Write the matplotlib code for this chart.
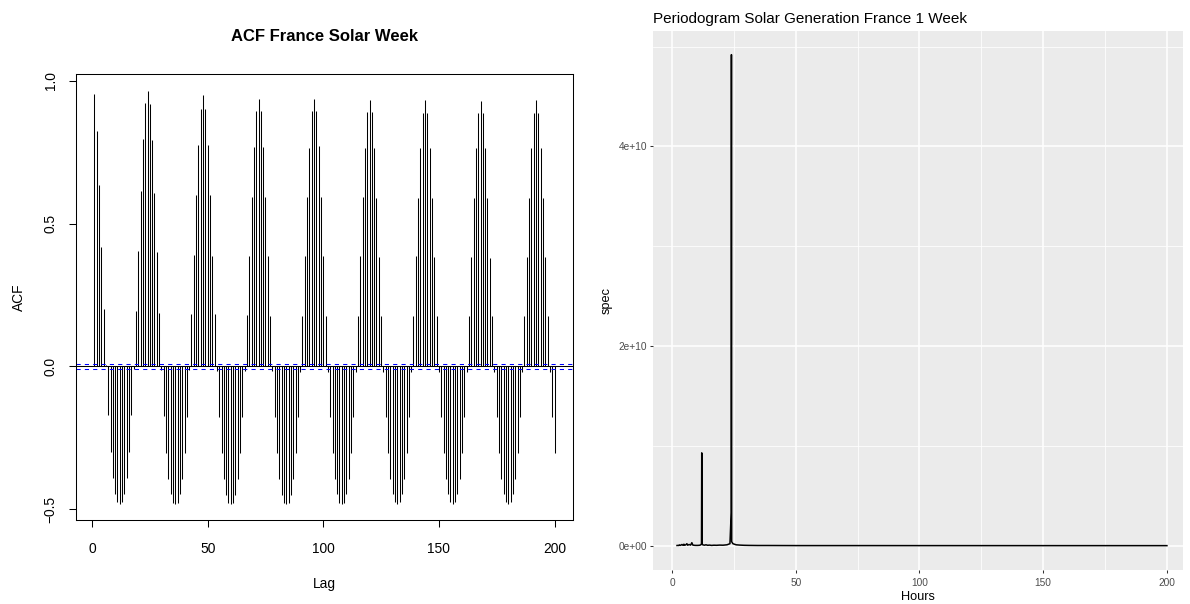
import matplotlib
matplotlib.use("Agg")
import matplotlib.pyplot as plt
import numpy as np

plt.rcParams['font.family'] = ['Liberation Sans', 'DejaVu Sans']

# ---------------- ACF data (lags 1..200) ----------------
acf_lags = list(range(1, 201))
acf_values = [
    # 1-24
    0.953, 0.823, 0.634, 0.418, 0.200, 0.004,
    -0.170, -0.300, -0.391, -0.446, -0.476, -0.482, -0.476, -0.446, -0.391, -0.300, -0.172,
    -0.010,
    0.194, 0.404, 0.613, 0.795, 0.923, 0.966,
    # 25-48
    0.919, 0.792, 0.608, 0.399, 0.186, -0.012,
    -0.175, -0.304, -0.394, -0.448, -0.477, -0.483, -0.477, -0.448, -0.394, -0.303, -0.176,
    -0.013,
    0.185, 0.391, 0.599, 0.777, 0.900, 0.949,
    # 49-72
    0.900, 0.777, 0.599, 0.387, 0.183, -0.015,
    -0.177, -0.305, -0.395, -0.449, -0.478, -0.483, -0.478, -0.449, -0.395, -0.305, -0.178,
    -0.016,
    0.179, 0.387, 0.593, 0.768, 0.894, 0.937,
    # 73-96
    0.894, 0.768, 0.593, 0.385, 0.178, -0.017,
    -0.178, -0.305, -0.395, -0.449, -0.478, -0.483, -0.478, -0.449, -0.395, -0.305, -0.178,
    -0.018,
    0.178, 0.385, 0.593, 0.766, 0.894, 0.937,
    # 97-120
    0.894, 0.771, 0.593, 0.385, 0.177, -0.019,
    -0.178, -0.305, -0.394, -0.448, -0.477, -0.482, -0.477, -0.448, -0.394, -0.305, -0.178,
    -0.019,
    0.177, 0.385, 0.593, 0.766, 0.891, 0.934,
    # 121-144
    0.891, 0.766, 0.591, 0.383, 0.176, -0.020,
    -0.178, -0.305, -0.394, -0.448, -0.476, -0.482, -0.476, -0.448, -0.394, -0.305, -0.178,
    -0.020,
    0.176, 0.385, 0.591, 0.766, 0.888, 0.932,
    # 145-168
    0.888, 0.766, 0.591, 0.383, 0.176, -0.020,
    -0.178, -0.304, -0.394, -0.447, -0.475, -0.482, -0.475, -0.447, -0.394, -0.304, -0.178,
    -0.020,
    0.175, 0.383, 0.588, 0.764, 0.888, 0.931,
    # 169-192
    0.888, 0.764, 0.588, 0.380, 0.175, -0.021,
    -0.178, -0.304, -0.394, -0.447, -0.475, -0.482, -0.475, -0.447, -0.394, -0.304, -0.178,
    -0.021,
    0.175, 0.383, 0.588, 0.764, 0.888, 0.932,
    # 193-200
    0.888, 0.764, 0.588, 0.383, 0.175, -0.021, -0.178, -0.304,
]
acf_ci = 0.0093
acf_xticks = [0, 50, 100, 150, 200]
acf_yticks = [-0.5, 0.0, 0.5, 1.0]
acf_yticklabels = ["\u22120.5", "0.0", "0.5", "1.0"]

# ---------------- Periodogram data ----------------
pg_hours = [2.0, 2.4, 2.8, 3.0, 3.4, 4.0, 4.4, 4.8, 5.0, 5.3, 5.6, 6.0, 6.3, 6.9,
            7.5, 8.0, 8.4, 9.0, 9.6, 10.3, 11.0, 11.6, 11.9, 12.0, 12.1, 12.5,
            13.1, 13.7, 14.4, 15.1, 16.0, 16.9, 18.0, 19.2, 20.6, 22.2, 23.4,
            23.9, 24.0, 24.1, 24.6, 25.9, 27.4, 29.1, 31.0, 34.5, 38.7, 44.2,
            51.6, 61.9, 77.4, 103.2, 154.8, 200.0]
pg_spec = [2e7, 3e7, 2e7, 8e7, 3e7, 1.2e8, 4e7, 1.5e8, 5e7, 6e7, 1.0e8, 2.0e8, 5e7, 1.2e8,
           6e7, 3.0e8, 6e7, 4e7, 3e7, 3e7, 4e7, 8e7, 2e8, 9.3e9, 1.5e8, 8e7,
           5e7, 9e7, 4e7, 6e7, 3e7, 5e7, 4e7, 6e7, 5e7, 9e7, 2e8,
           3.3e9, 4.92e10, 4e8, 2e8, 9e7, 6e7, 4e7, 3e7, 2e7, 2e7, 1.5e7,
           1e7, 1e7, 1e7, 8e6, 6e6, 5e6]
pg_xticks = [0, 50, 100, 150, 200]
pg_xminor = [25, 75, 125, 175]
pg_yticks = [0, 2e10, 4e10]
pg_yticklabels = ["0e+00", "2e+10", "4e+10"]
pg_yminor = [1e10, 3e10, 5e10]

W, H = 1190, 604
fig = plt.figure(figsize=(W / 100, H / 100), dpi=100)

# ---------------- Left: base-R style ACF ----------------
axL = fig.add_axes([76 / W, (H - 520) / H, 497 / W, 446 / H])
axL.vlines(acf_lags, 0, acf_values, color='black', lw=0.75)
axL.axhline(0, color='black', lw=0.75)
axL.axhline(acf_ci, color='blue', lw=0.75, linestyle=(0, (4, 4)))
axL.axhline(-acf_ci, color='blue', lw=0.75, linestyle=(0, (4, 4)))
axL.set_xlim(-6.92, 208.0)
axL.set_ylim(-0.538, 1.024)
axL.set_xticks(acf_xticks)
axL.set_xticklabels([str(t) for t in acf_xticks])
axL.set_yticks(acf_yticks)
axL.set_yticklabels(acf_yticklabels, rotation=90, va='center')
for sp in axL.spines.values():
    sp.set_color('black')
    sp.set_linewidth(0.75)
axL.tick_params(axis='both', direction='out', length=5.2, width=0.75,
                labelsize=9.9, colors='black')
axL.tick_params(axis='x', pad=10.5)
axL.tick_params(axis='y', pad=8)
axL.set_xlabel("Lag", fontsize=9.9, labelpad=15)
axL.set_ylabel("ACF", fontsize=9.9, labelpad=13)
axL.set_title("ACF France Solar Week", fontsize=12, fontweight='bold', pad=23.5)

# ---------------- Right: ggplot style periodogram ----------------
axR = fig.add_axes([653 / W, (H - 570) / H, 530 / W, 539 / H])
axR.set_facecolor('#EBEBEB')
axR.set_xlim(-7.7, 206.5)
axR.set_ylim(-0.2435e10, 5.157e10)
for x in pg_xminor:
    axR.axvline(x, color='white', lw=0.55, zorder=0.5)
for y in pg_yminor:
    axR.axhline(y, color='white', lw=0.55, zorder=0.5)
for x in pg_xticks:
    axR.axvline(x, color='white', lw=1.1, zorder=0.6)
for y in pg_yticks:
    axR.axhline(y, color='white', lw=1.1, zorder=0.6)
axR.plot(pg_hours, pg_spec, color='black', lw=1.1, zorder=2)
axR.set_xticks(pg_xticks)
axR.set_xticklabels([str(t) for t in pg_xticks])
axR.set_yticks(pg_yticks)
axR.set_yticklabels(pg_yticklabels)
for sp in axR.spines.values():
    sp.set_visible(False)
axR.tick_params(axis='both', direction='out', length=2.2, width=0.75,
                color='#333333', labelcolor='#4D4D4D', labelsize=7.3, pad=2.2)
axR.tick_params(axis='x', pad=3.5)
axR.set_xlabel("Hours", fontsize=9.2, labelpad=2.5)
axR.set_ylabel("spec", fontsize=9.2, labelpad=4)
axR.set_title("Periodogram Solar Generation France 1 Week", fontsize=11,
              loc='left', pad=6)

fig.savefig("out.png", dpi=100)
